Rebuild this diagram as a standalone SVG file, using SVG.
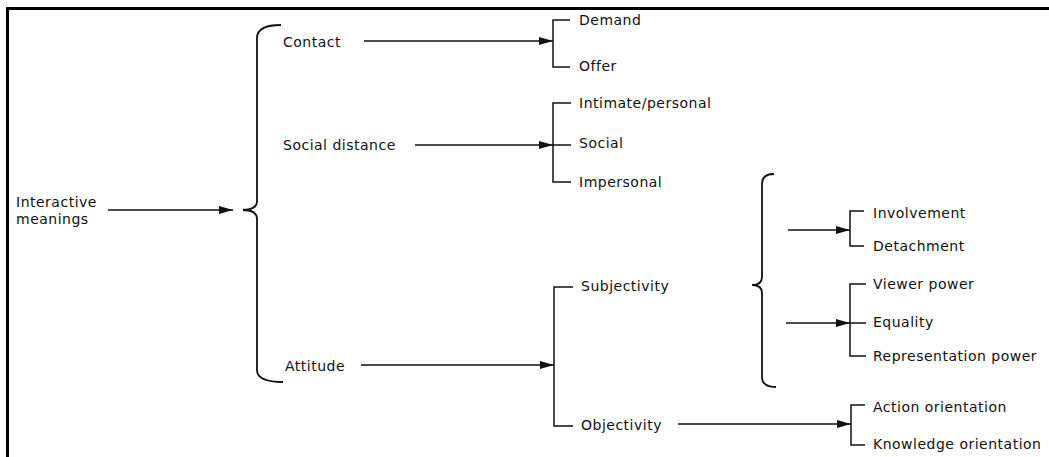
<svg xmlns="http://www.w3.org/2000/svg" width="1049" height="457" viewBox="0 0 1049 457">
<style>
text{font-family:"DejaVu Sans",sans-serif;font-size:14px;letter-spacing:0.5px;fill:#111}
.l{stroke:#111;stroke-width:1.5;fill:none}
.b{stroke:#111;stroke-width:1.8;fill:none}
</style>
<defs>
<marker id="ah" viewBox="0 0 14 8" refX="14" refY="4" markerWidth="14" markerHeight="8" markerUnits="userSpaceOnUse" orient="auto">
<path d="M0,0 L14,4 L0,8 z" fill="#111"/>
</marker>
</defs>
<rect width="1049" height="457" fill="#fff"/>
<g id="frame">
<line x1="6" y1="8.5" x2="1049" y2="8.5" stroke="#000" stroke-width="3"/>
<line x1="7.5" y1="7" x2="7.5" y2="457" stroke="#000" stroke-width="3"/>
</g>
<g id="connectors">
<line class="l" x1="108" y1="210" x2="233" y2="210" marker-end="url(#ah)"/>
<path class="b" d="M281,25 Q257,25 257,38 L257,201 Q257,210 243,210 Q257,210 257,219 L257,370 Q257,382 283,382"/>
<line class="l" x1="364" y1="41" x2="553" y2="41" marker-end="url(#ah)"/>
<path class="l" d="M570,20 L553,20 L553,67 L570,67"/>
<line class="l" x1="415" y1="145" x2="553" y2="145" marker-end="url(#ah)"/>
<path class="l" d="M571,103 L553,103 L553,182 L571,182 M553,145 L571,145"/>
<line class="l" x1="361" y1="365" x2="554" y2="365" marker-end="url(#ah)"/>
<path class="l" d="M573,287 L554,287 L554,426 L573,426"/>
<line class="l" x1="678" y1="424" x2="851" y2="424" marker-end="url(#ah)"/>
<path class="l" d="M865,405 L851,405 L851,445 L865,445"/>
<path class="b" d="M774,174 Q762,174 762,184 L762,277 Q762,285 752,285 Q762,285 762,293 L762,377 Q762,387 776,387"/>
<line class="l" x1="788" y1="230" x2="850" y2="230" marker-end="url(#ah)"/>
<path class="l" d="M864,211 L850,211 L850,246 L864,246"/>
<line class="l" x1="786" y1="323" x2="850" y2="323" marker-end="url(#ah)"/>
<path class="l" d="M866,284 L850,284 L850,356 L866,356 M850,323 L866,323"/>
</g>
<g id="n-interactive"><text x="16" y="207">Interactive</text><text x="16" y="224">meanings</text></g>
<g id="n-contact"><text x="283" y="47">Contact</text></g>
<g id="n-social-distance"><text x="283" y="150">Social distance</text></g>
<g id="n-attitude"><text x="285" y="371">Attitude</text></g>
<g id="n-demand"><text x="579" y="25">Demand</text></g>
<g id="n-offer"><text x="579" y="71">Offer</text></g>
<g id="n-intimate"><text x="579" y="108">Intimate/personal</text></g>
<g id="n-social"><text x="579" y="148">Social</text></g>
<g id="n-impersonal"><text x="579" y="187">Impersonal</text></g>
<g id="n-subjectivity"><text x="581" y="291">Subjectivity</text></g>
<g id="n-objectivity"><text x="581" y="430">Objectivity</text></g>
<g id="n-involvement"><text x="873" y="218">Involvement</text></g>
<g id="n-detachment"><text x="873" y="251">Detachment</text></g>
<g id="n-viewer"><text x="873" y="289">Viewer power</text></g>
<g id="n-equality"><text x="873" y="327">Equality</text></g>
<g id="n-representation"><text x="873" y="361">Representation power</text></g>
<g id="n-action"><text x="873" y="412">Action orientation</text></g>
<g id="n-knowledge"><text x="873" y="449">Knowledge orientation</text></g>
</svg>
